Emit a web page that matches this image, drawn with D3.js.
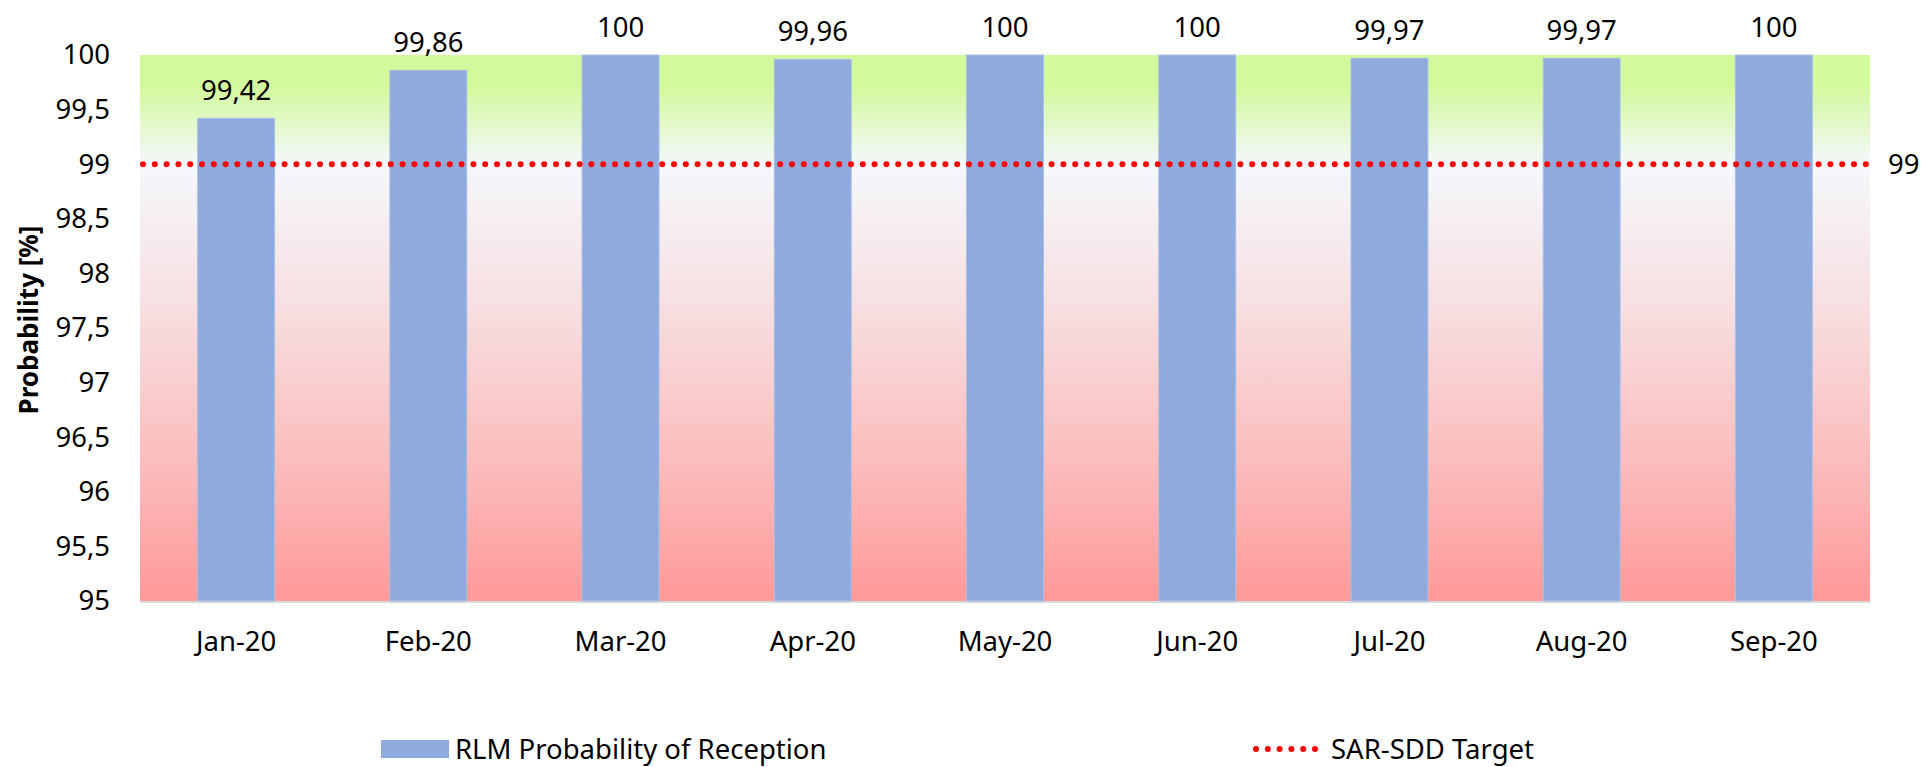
<!DOCTYPE html>
<html>
<head>
<meta charset="utf-8">
<script src="https://cdn.jsdelivr.net/npm/d3@7"></script>
<style>
  body { margin: 0; background: #fff; }
  text { font-family: "Noto Sans", sans-serif; fill: #000; }
</style>
</head>
<body>
<svg width="1924" height="767"></svg>
<script>
const months = ['Jan-20', 'Feb-20', 'Mar-20', 'Apr-20', 'May-20', 'Jun-20', 'Jul-20', 'Aug-20', 'Sep-20'];
const reception = [99.42, 99.86, 100, 99.96, 100, 100, 99.97, 99.97, 100];
const target = 99;
const yTicks = [95, 95.5, 96, 96.5, 97, 97.5, 98, 98.5, 99, 99.5, 100];

const svg = d3.select('svg');
const margin = { left: 140, right: 54, top: 55, bottom: 166 };
const width = +svg.attr('width');
const height = +svg.attr('height');
const fmt = v => String(v).replace('.', ',');

const x = d3.scaleBand()
            .domain(months)
            .range([margin.left, width - margin.right])
            .paddingInner(0.6)
            .paddingOuter(0.3);
const y = d3.scaleLinear()
            .domain([95, 100])
            .range([height - margin.bottom, margin.top]);

// background gradient, green above target fading to red at the bottom
const grad = svg.append('defs').append('linearGradient')
                .attr('id', 'bg').attr('x1', 0).attr('y1', 0).attr('x2', 0).attr('y2', 1);
[[0, '#d3f99d'], [0.06, '#d3f99d'], [0.2, '#f5f8fc'], [0.45, '#f7e0e2'], [0.75, '#fbbcbc'], [1, '#ff9999']]
  .forEach(([o, c]) => grad.append('stop').attr('offset', o).attr('stop-color', c));

svg.append('rect')
   .attr('x', margin.left)
   .attr('y', y(100))
   .attr('width', width - margin.right - margin.left)
   .attr('height', y(95) - y(100))
   .attr('fill', 'url(#bg)');

// axis line at bottom
svg.append('line')
   .attr('x1', margin.left).attr('x2', width - margin.right)
   .attr('y1', y(95) + 1).attr('y2', y(95) + 1)
   .attr('stroke', '#d9d9d9').attr('stroke-width', 2);

// y ticks
const yAxis = svg.append('g')
                 .attr('transform', `translate(${margin.left - 30},0)`)
                 .call(d3.axisLeft(y).tickValues(yTicks).tickFormat(fmt).tickSize(0).tickPadding(0));
yAxis.select('.domain').remove();
yAxis.selectAll('text')
     .attr('font-size', 27.5)
     .attr('font-family', '"Noto Sans", sans-serif')
     .attr('fill', '#000');

// x labels
const xAxis = svg.append('g')
                 .attr('transform', `translate(0,${y(95)})`)
                 .call(d3.axisBottom(x).tickSize(0).tickPadding(30));
xAxis.select('.domain').remove();
xAxis.selectAll('text')
     .attr('font-size', 27.5)
     .attr('font-family', '"Noto Sans", sans-serif')
     .attr('fill', '#000');

svg.append('text')
   .attr('transform', `translate(38,${(y(95) + y(100)) / 2 - 8}) rotate(-90)`)
   .attr('text-anchor', 'middle')
   .attr('font-size', 26)
   .attr('font-weight', 'bold')
   .text('Probability [%]');

// bars
svg.append('g').selectAll('rect')
   .data(reception)
   .join('rect')
   .attr('x', (d, i) => x(months[i]))
   .attr('y', d => y(d))
   .attr('width', x.bandwidth())
   .attr('height', d => y(95) - y(d))
   .attr('fill', '#8faadc')
   .attr('stroke', '#a9bee6')
   .attr('stroke-width', 1);

svg.append('g').selectAll('text')
   .data(reception)
   .join('text')
   .attr('x', (d, i) => x(months[i]) + x.bandwidth() / 2)
   .attr('y', d => y(d) - 18)
   .attr('text-anchor', 'middle')
   .attr('font-size', 27.5)
   .text(fmt);

// target line
svg.append('line')
   .attr('x1', margin.left + 3).attr('x2', width - margin.right - 4)
   .attr('y1', y(target)).attr('y2', y(target))
   .attr('stroke', '#ff0000')
   .attr('stroke-width', 6)
   .attr('stroke-linecap', 'round')
   .attr('stroke-dasharray', '0 11.8');

svg.append('text')
   .attr('x', width - margin.right + 18)
   .attr('y', y(target))
   .attr('dy', '0.35em')
   .attr('font-size', 27.5)
   .text(fmt(target));

// legend
const legend = svg.append('g');
legend.append('rect')
      .attr('x', 381).attr('y', 740)
      .attr('width', 68).attr('height', 18)
      .attr('fill', '#8faadc');
legend.append('text')
      .attr('x', 455).attr('y', 759)
      .attr('font-size', 27.5)
      .text('RLM Probability of Reception');
legend.append('line')
      .attr('x1', 1256).attr('x2', 1316)
      .attr('y1', 749).attr('y2', 749)
      .attr('stroke', '#ff0000')
      .attr('stroke-width', 6)
      .attr('stroke-linecap', 'round')
      .attr('stroke-dasharray', '0 11.8');
legend.append('text')
      .attr('x', 1331).attr('y', 759)
      .attr('font-size', 27.5)
      .text('SAR-SDD Target');
</script>
</body>
</html>
